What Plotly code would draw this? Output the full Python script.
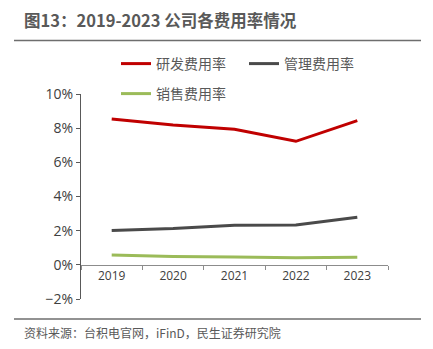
import plotly.graph_objects as go

years = ["2019", "2020", "2021", "2022", "2023"]
rd_rate = [8.54, 8.19, 7.93, 7.23, 8.44]
admin_rate = [2.01, 2.12, 2.32, 2.33, 2.79]
sales_rate = [0.57, 0.49, 0.46, 0.41, 0.45]
series_names = ["研发费用率", "管理费用率", "销售费用率"]
title_text = "图13：2019-2023 公司各费用率情况"
source_text = "资料来源：台积电官网，iFinD，民生证券研究院"

W, H = 433, 349
L, R, T, B = 81, 45, 94, 50

CJK = "Noto Sans CJK SC"
NUM = "Open Sans"

fig = go.Figure()
fig.add_trace(go.Scatter(x=years, y=rd_rate, name=series_names[0], mode="lines",
                         line=dict(color="#C00000", width=3), legend="legend"))
fig.add_trace(go.Scatter(x=years, y=admin_rate, name=series_names[1], mode="lines",
                         line=dict(color="#4A4A4A", width=3), legend="legend"))
fig.add_trace(go.Scatter(x=years, y=sales_rate, name=series_names[2], mode="lines",
                         line=dict(color="#9BBB59", width=3), legend="legend2"))

fig.update_layout(
    width=W, height=H,
    margin=dict(l=L, r=R, t=T, b=B),
    paper_bgcolor="white", plot_bgcolor="white",
    showlegend=True,
    legend=dict(orientation="h", x=(122 - 6 - L) / (W - L - R), xanchor="left",
                y=1 + (94 - 48) / (H - T - B), yanchor="top",
                entrywidth=83, entrywidthmode="pixels",
                font=dict(family=CJK, size=14, color="#595959"),
                bgcolor="rgba(0,0,0,0)"),
    legend2=dict(orientation="h", x=(122 - 6 - L) / (W - L - R), xanchor="left",
                 y=1 + (94 - 78) / (H - T - B), yanchor="top",
                 font=dict(family=CJK, size=14, color="#595959"),
                 bgcolor="rgba(0,0,0,0)"),
    xaxis=dict(type="category", anchor="free", position=1 / 6,
               showline=True, linecolor="#8C8C8C", linewidth=1,
               ticks="outside", tickson="boundaries", ticklen=4, tickcolor="#8C8C8C",
               showgrid=False, zeroline=False,
               tickfont=dict(family=NUM, size=12, color="#404040"),
               range=[-0.5, 4.5]),
    yaxis=dict(range=[-2, 10], dtick=2, ticksuffix="%",
               showline=True, linecolor="#595959", linewidth=1,
               ticks="outside", ticklen=4, tickcolor="#595959",
               showgrid=False, zeroline=False,
               tickfont=dict(family=NUM, size=14, color="#404040")),
)

fig.add_annotation(text="<b>" + title_text + "</b>", xref="paper", yref="paper",
                   x=(22 - L) / (W - L - R), y=1 + (T - 20) / (H - T - B),
                   xanchor="left", yanchor="middle", showarrow=False,
                   font=dict(family=CJK, size=16.5, color="#595959"))
fig.add_annotation(text=source_text, xref="paper", yref="paper",
                   x=(22 - L) / (W - L - R), y=-(332 - (H - B)) / (H - T - B),
                   xanchor="left", yanchor="middle", showarrow=False,
                   font=dict(family=CJK, size=12, color="#595959"))

def px_y(yp):
    return 1 - (yp - T) / (H - T - B)

def px_x(xp):
    return (xp - L) / (W - L - R)

fig.add_shape(type="line", xref="paper", yref="paper",
              x0=px_x(14), x1=px_x(421), y0=px_y(40.5), y1=px_y(40.5),
              line=dict(color="#6E6E6E", width=1.5))
fig.add_shape(type="line", xref="paper", yref="paper",
              x0=px_x(14), x1=px_x(421), y0=px_y(319), y1=px_y(319),
              line=dict(color="#6E6E6E", width=1.5))

fig.write_html("out.html")
